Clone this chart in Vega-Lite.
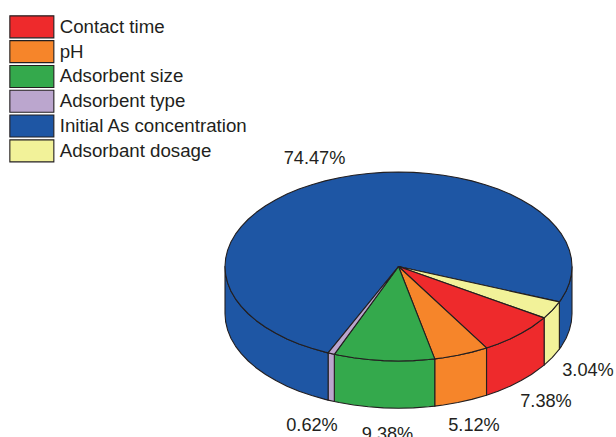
{
"$schema":"https://vega.github.io/schema/vega-lite/v6.json",
"width":616,"height":437,"padding":0,"autosize":{"type":"none"},
"background":"#ffffff",
"config":{"view":{"stroke":null}},
"datasets":{
"slices":[
{"slice":"Initial As concentration","share":0.7447,"label_x":-0.4841,"label_y":1.1587},
{"slice":"Adsorbant dosage","share":0.0304,"label_x":1.0922,"label_y":-1.0847},
{"slice":"Contact time","share":0.0738,"label_x":0.8501,"label_y":-1.4201},
{"slice":"pH","share":0.0512,"label_x":0.4352,"label_y":-1.6741},
{"slice":"Adsorbent size","share":0.0938,"label_x":-0.0634,"label_y":-1.7619},
{"slice":"Adsorbent type","share":0.0062,"label_x":-0.4986,"label_y":-1.6667}
],
"wall":[
{"slice":"Initial As concentration","piece":"right","i":0,"x":1,"y":0},
{"slice":"Initial As concentration","piece":"right","i":1,"x":0.9962,"y":-0.0872},
{"slice":"Initial As concentration","piece":"right","i":2,"x":0.9848,"y":-0.1736},
{"slice":"Initial As concentration","piece":"right","i":3,"x":0.9659,"y":-0.2588},
{"slice":"Initial As concentration","piece":"right","i":4,"x":0.9397,"y":-0.342},
{"slice":"Initial As concentration","piece":"right","i":5,"x":0.9272,"y":-0.3746},
{"slice":"Initial As concentration","piece":"right","i":6,"x":0.9272,"y":-0.8746},
{"slice":"Initial As concentration","piece":"right","i":7,"x":0.9397,"y":-0.842},
{"slice":"Initial As concentration","piece":"right","i":8,"x":0.9659,"y":-0.7588},
{"slice":"Initial As concentration","piece":"right","i":9,"x":0.9848,"y":-0.6736},
{"slice":"Initial As concentration","piece":"right","i":10,"x":0.9962,"y":-0.5872},
{"slice":"Initial As concentration","piece":"right","i":11,"x":1,"y":-0.5},
{"slice":"Initial As concentration","piece":"right","i":12,"x":1,"y":0},
{"slice":"Adsorbant dosage","piece":"dosage","i":0,"x":0.9272,"y":-0.3746},
{"slice":"Adsorbant dosage","piece":"dosage","i":1,"x":0.887,"y":-0.4617},
{"slice":"Adsorbant dosage","piece":"dosage","i":2,"x":0.8393,"y":-0.5437},
{"slice":"Adsorbant dosage","piece":"dosage","i":3,"x":0.8393,"y":-1.0437},
{"slice":"Adsorbant dosage","piece":"dosage","i":4,"x":0.887,"y":-0.9617},
{"slice":"Adsorbant dosage","piece":"dosage","i":5,"x":0.9272,"y":-0.8746},
{"slice":"Adsorbant dosage","piece":"dosage","i":6,"x":0.9272,"y":-0.3746},
{"slice":"Contact time","piece":"contact","i":0,"x":0.8393,"y":-0.5437},
{"slice":"Contact time","piece":"contact","i":1,"x":0.766,"y":-0.6428},
{"slice":"Contact time","piece":"contact","i":2,"x":0.7071,"y":-0.7071},
{"slice":"Contact time","piece":"contact","i":3,"x":0.6428,"y":-0.766},
{"slice":"Contact time","piece":"contact","i":4,"x":0.5736,"y":-0.8192},
{"slice":"Contact time","piece":"contact","i":5,"x":0.5073,"y":-0.8617},
{"slice":"Contact time","piece":"contact","i":6,"x":0.5073,"y":-1.3617},
{"slice":"Contact time","piece":"contact","i":7,"x":0.5736,"y":-1.3192},
{"slice":"Contact time","piece":"contact","i":8,"x":0.6428,"y":-1.266},
{"slice":"Contact time","piece":"contact","i":9,"x":0.7071,"y":-1.2071},
{"slice":"Contact time","piece":"contact","i":10,"x":0.766,"y":-1.1428},
{"slice":"Contact time","piece":"contact","i":11,"x":0.8393,"y":-1.0437},
{"slice":"Contact time","piece":"contact","i":12,"x":0.8393,"y":-0.5437},
{"slice":"pH","piece":"ph","i":0,"x":0.5073,"y":-0.8617},
{"slice":"pH","piece":"ph","i":1,"x":0.4226,"y":-0.9063},
{"slice":"pH","piece":"ph","i":2,"x":0.342,"y":-0.9397},
{"slice":"pH","piece":"ph","i":3,"x":0.2588,"y":-0.9659},
{"slice":"pH","piece":"ph","i":4,"x":0.2089,"y":-0.9779},
{"slice":"pH","piece":"ph","i":5,"x":0.2089,"y":-1.4779},
{"slice":"pH","piece":"ph","i":6,"x":0.2588,"y":-1.4659},
{"slice":"pH","piece":"ph","i":7,"x":0.342,"y":-1.4397},
{"slice":"pH","piece":"ph","i":8,"x":0.4226,"y":-1.4063},
{"slice":"pH","piece":"ph","i":9,"x":0.5073,"y":-1.3617},
{"slice":"pH","piece":"ph","i":10,"x":0.5073,"y":-0.8617},
{"slice":"Adsorbent size","piece":"size","i":0,"x":0.2089,"y":-0.9779},
{"slice":"Adsorbent size","piece":"size","i":1,"x":0.1736,"y":-0.9848},
{"slice":"Adsorbent size","piece":"size","i":2,"x":0.0872,"y":-0.9962},
{"slice":"Adsorbent size","piece":"size","i":3,"x":0,"y":-1},
{"slice":"Adsorbent size","piece":"size","i":4,"x":-0.0872,"y":-0.9962},
{"slice":"Adsorbent size","piece":"size","i":5,"x":-0.1736,"y":-0.9848},
{"slice":"Adsorbent size","piece":"size","i":6,"x":-0.2588,"y":-0.9659},
{"slice":"Adsorbent size","piece":"size","i":7,"x":-0.342,"y":-0.9397},
{"slice":"Adsorbent size","piece":"size","i":8,"x":-0.3699,"y":-0.9291},
{"slice":"Adsorbent size","piece":"size","i":9,"x":-0.3699,"y":-1.4291},
{"slice":"Adsorbent size","piece":"size","i":10,"x":-0.342,"y":-1.4397},
{"slice":"Adsorbent size","piece":"size","i":11,"x":-0.2588,"y":-1.4659},
{"slice":"Adsorbent size","piece":"size","i":12,"x":-0.1736,"y":-1.4848},
{"slice":"Adsorbent size","piece":"size","i":13,"x":-0.0872,"y":-1.4962},
{"slice":"Adsorbent size","piece":"size","i":14,"x":0,"y":-1.5},
{"slice":"Adsorbent size","piece":"size","i":15,"x":0.0872,"y":-1.4962},
{"slice":"Adsorbent size","piece":"size","i":16,"x":0.1736,"y":-1.4848},
{"slice":"Adsorbent size","piece":"size","i":17,"x":0.2089,"y":-1.4779},
{"slice":"Adsorbent size","piece":"size","i":18,"x":0.2089,"y":-0.9779},
{"slice":"Adsorbent type","piece":"type","i":0,"x":-0.3699,"y":-0.9291},
{"slice":"Adsorbent type","piece":"type","i":1,"x":-0.4058,"y":-0.914},
{"slice":"Adsorbent type","piece":"type","i":2,"x":-0.4058,"y":-1.414},
{"slice":"Adsorbent type","piece":"type","i":3,"x":-0.3699,"y":-1.4291},
{"slice":"Adsorbent type","piece":"type","i":4,"x":-0.3699,"y":-0.9291},
{"slice":"Initial As concentration","piece":"left","i":0,"x":-0.4058,"y":-0.914},
{"slice":"Initial As concentration","piece":"left","i":1,"x":-0.4226,"y":-0.9063},
{"slice":"Initial As concentration","piece":"left","i":2,"x":-0.5,"y":-0.866},
{"slice":"Initial As concentration","piece":"left","i":3,"x":-0.5736,"y":-0.8192},
{"slice":"Initial As concentration","piece":"left","i":4,"x":-0.6428,"y":-0.766},
{"slice":"Initial As concentration","piece":"left","i":5,"x":-0.7071,"y":-0.7071},
{"slice":"Initial As concentration","piece":"left","i":6,"x":-0.766,"y":-0.6428},
{"slice":"Initial As concentration","piece":"left","i":7,"x":-0.8192,"y":-0.5736},
{"slice":"Initial As concentration","piece":"left","i":8,"x":-0.866,"y":-0.5},
{"slice":"Initial As concentration","piece":"left","i":9,"x":-0.9063,"y":-0.4226},
{"slice":"Initial As concentration","piece":"left","i":10,"x":-0.9397,"y":-0.342},
{"slice":"Initial As concentration","piece":"left","i":11,"x":-0.9659,"y":-0.2588},
{"slice":"Initial As concentration","piece":"left","i":12,"x":-0.9848,"y":-0.1736},
{"slice":"Initial As concentration","piece":"left","i":13,"x":-0.9962,"y":-0.0872},
{"slice":"Initial As concentration","piece":"left","i":14,"x":-1,"y":0},
{"slice":"Initial As concentration","piece":"left","i":15,"x":-1,"y":-0.5},
{"slice":"Initial As concentration","piece":"left","i":16,"x":-0.9962,"y":-0.5872},
{"slice":"Initial As concentration","piece":"left","i":17,"x":-0.9848,"y":-0.6736},
{"slice":"Initial As concentration","piece":"left","i":18,"x":-0.9659,"y":-0.7588},
{"slice":"Initial As concentration","piece":"left","i":19,"x":-0.9397,"y":-0.842},
{"slice":"Initial As concentration","piece":"left","i":20,"x":-0.9063,"y":-0.9226},
{"slice":"Initial As concentration","piece":"left","i":21,"x":-0.866,"y":-1},
{"slice":"Initial As concentration","piece":"left","i":22,"x":-0.8192,"y":-1.0736},
{"slice":"Initial As concentration","piece":"left","i":23,"x":-0.766,"y":-1.1428},
{"slice":"Initial As concentration","piece":"left","i":24,"x":-0.7071,"y":-1.2071},
{"slice":"Initial As concentration","piece":"left","i":25,"x":-0.6428,"y":-1.266},
{"slice":"Initial As concentration","piece":"left","i":26,"x":-0.5736,"y":-1.3192},
{"slice":"Initial As concentration","piece":"left","i":27,"x":-0.5,"y":-1.366},
{"slice":"Initial As concentration","piece":"left","i":28,"x":-0.4226,"y":-1.4063},
{"slice":"Initial As concentration","piece":"left","i":29,"x":-0.4058,"y":-1.414},
{"slice":"Initial As concentration","piece":"left","i":30,"x":-0.4058,"y":-0.914}
],
"top_face":[
{"slice":"Initial As concentration","i":0,"x":0,"y":0},
{"slice":"Initial As concentration","i":1,"x":-0.4058,"y":-0.914},
{"slice":"Initial As concentration","i":2,"x":-0.4226,"y":-0.9063},
{"slice":"Initial As concentration","i":3,"x":-0.5,"y":-0.866},
{"slice":"Initial As concentration","i":4,"x":-0.5736,"y":-0.8192},
{"slice":"Initial As concentration","i":5,"x":-0.6428,"y":-0.766},
{"slice":"Initial As concentration","i":6,"x":-0.7071,"y":-0.7071},
{"slice":"Initial As concentration","i":7,"x":-0.766,"y":-0.6428},
{"slice":"Initial As concentration","i":8,"x":-0.8192,"y":-0.5736},
{"slice":"Initial As concentration","i":9,"x":-0.866,"y":-0.5},
{"slice":"Initial As concentration","i":10,"x":-0.9063,"y":-0.4226},
{"slice":"Initial As concentration","i":11,"x":-0.9397,"y":-0.342},
{"slice":"Initial As concentration","i":12,"x":-0.9659,"y":-0.2588},
{"slice":"Initial As concentration","i":13,"x":-0.9848,"y":-0.1736},
{"slice":"Initial As concentration","i":14,"x":-0.9962,"y":-0.0872},
{"slice":"Initial As concentration","i":15,"x":-1,"y":0},
{"slice":"Initial As concentration","i":16,"x":-0.9962,"y":0.0872},
{"slice":"Initial As concentration","i":17,"x":-0.9848,"y":0.1736},
{"slice":"Initial As concentration","i":18,"x":-0.9659,"y":0.2588},
{"slice":"Initial As concentration","i":19,"x":-0.9397,"y":0.342},
{"slice":"Initial As concentration","i":20,"x":-0.9063,"y":0.4226},
{"slice":"Initial As concentration","i":21,"x":-0.866,"y":0.5},
{"slice":"Initial As concentration","i":22,"x":-0.8192,"y":0.5736},
{"slice":"Initial As concentration","i":23,"x":-0.766,"y":0.6428},
{"slice":"Initial As concentration","i":24,"x":-0.7071,"y":0.7071},
{"slice":"Initial As concentration","i":25,"x":-0.6428,"y":0.766},
{"slice":"Initial As concentration","i":26,"x":-0.5736,"y":0.8192},
{"slice":"Initial As concentration","i":27,"x":-0.5,"y":0.866},
{"slice":"Initial As concentration","i":28,"x":-0.4226,"y":0.9063},
{"slice":"Initial As concentration","i":29,"x":-0.342,"y":0.9397},
{"slice":"Initial As concentration","i":30,"x":-0.2588,"y":0.9659},
{"slice":"Initial As concentration","i":31,"x":-0.1736,"y":0.9848},
{"slice":"Initial As concentration","i":32,"x":-0.0872,"y":0.9962},
{"slice":"Initial As concentration","i":33,"x":0,"y":1},
{"slice":"Initial As concentration","i":34,"x":0.0872,"y":0.9962},
{"slice":"Initial As concentration","i":35,"x":0.1736,"y":0.9848},
{"slice":"Initial As concentration","i":36,"x":0.2588,"y":0.9659},
{"slice":"Initial As concentration","i":37,"x":0.342,"y":0.9397},
{"slice":"Initial As concentration","i":38,"x":0.4226,"y":0.9063},
{"slice":"Initial As concentration","i":39,"x":0.5,"y":0.866},
{"slice":"Initial As concentration","i":40,"x":0.5736,"y":0.8192},
{"slice":"Initial As concentration","i":41,"x":0.6428,"y":0.766},
{"slice":"Initial As concentration","i":42,"x":0.7071,"y":0.7071},
{"slice":"Initial As concentration","i":43,"x":0.766,"y":0.6428},
{"slice":"Initial As concentration","i":44,"x":0.8192,"y":0.5736},
{"slice":"Initial As concentration","i":45,"x":0.866,"y":0.5},
{"slice":"Initial As concentration","i":46,"x":0.9063,"y":0.4226},
{"slice":"Initial As concentration","i":47,"x":0.9397,"y":0.342},
{"slice":"Initial As concentration","i":48,"x":0.9659,"y":0.2588},
{"slice":"Initial As concentration","i":49,"x":0.9848,"y":0.1736},
{"slice":"Initial As concentration","i":50,"x":0.9962,"y":0.0872},
{"slice":"Initial As concentration","i":51,"x":1,"y":0},
{"slice":"Initial As concentration","i":52,"x":0.9962,"y":-0.0872},
{"slice":"Initial As concentration","i":53,"x":0.9848,"y":-0.1736},
{"slice":"Initial As concentration","i":54,"x":0.9659,"y":-0.2588},
{"slice":"Initial As concentration","i":55,"x":0.9397,"y":-0.342},
{"slice":"Initial As concentration","i":56,"x":0.9272,"y":-0.3746},
{"slice":"Initial As concentration","i":57,"x":0,"y":0},
{"slice":"Adsorbant dosage","i":0,"x":0,"y":0},
{"slice":"Adsorbant dosage","i":1,"x":0.9272,"y":-0.3746},
{"slice":"Adsorbant dosage","i":2,"x":0.887,"y":-0.4617},
{"slice":"Adsorbant dosage","i":3,"x":0.8393,"y":-0.5437},
{"slice":"Adsorbant dosage","i":4,"x":0,"y":0},
{"slice":"Contact time","i":0,"x":0,"y":0},
{"slice":"Contact time","i":1,"x":0.8393,"y":-0.5437},
{"slice":"Contact time","i":2,"x":0.766,"y":-0.6428},
{"slice":"Contact time","i":3,"x":0.7071,"y":-0.7071},
{"slice":"Contact time","i":4,"x":0.6428,"y":-0.766},
{"slice":"Contact time","i":5,"x":0.5736,"y":-0.8192},
{"slice":"Contact time","i":6,"x":0.5073,"y":-0.8617},
{"slice":"Contact time","i":7,"x":0,"y":0},
{"slice":"pH","i":0,"x":0,"y":0},
{"slice":"pH","i":1,"x":0.5073,"y":-0.8617},
{"slice":"pH","i":2,"x":0.4226,"y":-0.9063},
{"slice":"pH","i":3,"x":0.342,"y":-0.9397},
{"slice":"pH","i":4,"x":0.2588,"y":-0.9659},
{"slice":"pH","i":5,"x":0.2089,"y":-0.9779},
{"slice":"pH","i":6,"x":0,"y":0},
{"slice":"Adsorbent size","i":0,"x":0,"y":0},
{"slice":"Adsorbent size","i":1,"x":0.2089,"y":-0.9779},
{"slice":"Adsorbent size","i":2,"x":0.1736,"y":-0.9848},
{"slice":"Adsorbent size","i":3,"x":0.0872,"y":-0.9962},
{"slice":"Adsorbent size","i":4,"x":0,"y":-1},
{"slice":"Adsorbent size","i":5,"x":-0.0872,"y":-0.9962},
{"slice":"Adsorbent size","i":6,"x":-0.1736,"y":-0.9848},
{"slice":"Adsorbent size","i":7,"x":-0.2588,"y":-0.9659},
{"slice":"Adsorbent size","i":8,"x":-0.342,"y":-0.9397},
{"slice":"Adsorbent size","i":9,"x":-0.3699,"y":-0.9291},
{"slice":"Adsorbent size","i":10,"x":0,"y":0},
{"slice":"Adsorbent type","i":0,"x":0,"y":0},
{"slice":"Adsorbent type","i":1,"x":-0.3699,"y":-0.9291},
{"slice":"Adsorbent type","i":2,"x":-0.4058,"y":-0.914},
{"slice":"Adsorbent type","i":3,"x":0,"y":0}
]
},
"encoding":{
"x":{"field":"x","type":"quantitative","axis":null,"scale":{"domain":[-2.2968,1.2536],"nice":false,"zero":false}},
"y":{"field":"y","type":"quantitative","axis":null,"scale":{"domain":[-1.8042,2.8201],"nice":false,"zero":false}}
},
"layer":[
{
"data":{"name":"wall"},
"mark":{"type":"line","filled":true,"stroke":"#231f20","strokeWidth":1.1,"strokeJoin":"round","clip":false},
"encoding":{
"fill":{"field":"slice","type":"nominal","scale":{"domain":["Contact time","pH","Adsorbent size","Adsorbent type","Initial As concentration","Adsorbant dosage"],"range":["#ee2a2c","#f6852a","#34a94c","#bba6ce","#1e56a4","#f2f299"]},
"legend":{"title":null,"orient":"none","legendX":22.5,"legendY":17.5,"padding":0,"offset":0,"symbolType":"M-4.4,-2.2H4.4V2.2H-4.4Z","symbolSize":100,"symbolStrokeColor":"#231f20","symbolStrokeWidth":1.1,"symbolOpacity":1,"labelFont":"Liberation Sans","labelFontSize":18.7,"labelColor":"#231f20","labelOffset":18.5,"rowPadding":-2.2,"labelLimit":300}},
"detail":{"field":"piece"},
"order":{"field":"i","type":"quantitative"}
}
},
{
"data":{"name":"top_face"},
"mark":{"type":"line","filled":true,"stroke":"#231f20","strokeWidth":1.1,"strokeJoin":"round","clip":false},
"encoding":{
"fill":{"field":"slice","type":"nominal"},
"order":{"field":"i","type":"quantitative"}
}
},
{
"data":{"name":"slices"},
"mark":{"type":"text","font":"Liberation Sans","fontSize":18.2,"color":"#231f20","align":"center","baseline":"middle","dy":1.5,"clip":false},
"encoding":{
"x":{"field":"label_x","type":"quantitative"},
"y":{"field":"label_y","type":"quantitative"},
"text":{"field":"share","type":"quantitative","format":".2%"}
}
}
]
}
